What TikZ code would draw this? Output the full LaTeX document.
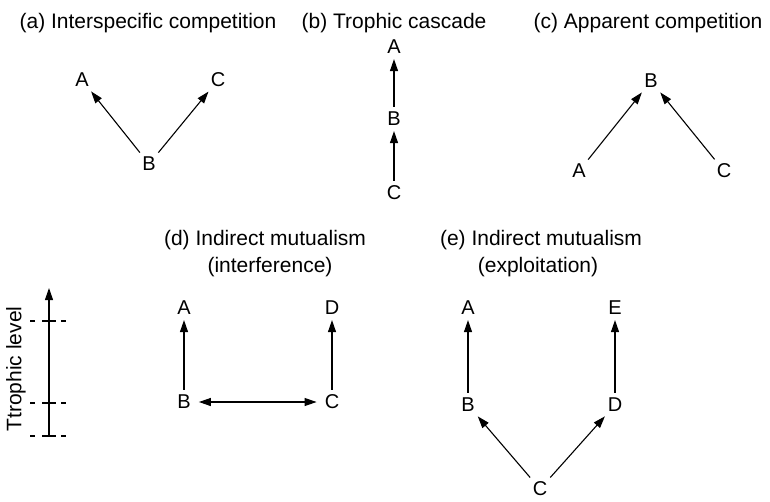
\documentclass[tikz,border=0pt]{standalone}
\usepackage{fontspec}
\setmainfont{Liberation Sans}
\usetikzlibrary{arrows.meta}
\begin{document}
\begin{tikzpicture}[x=1pt,y=-1pt,
  lbl/.style={inner xsep=3pt,inner ysep=2pt,font=\fontsize{20}{22}\selectfont},
  ttl/.style={inner sep=0pt,anchor=base,font=\fontsize{21}{25}\selectfont},
  arr/.style={-{Triangle[length=12pt,width=8pt]},line width=1.1pt,shorten >=3pt,shorten <=3pt},
  darr/.style={{Triangle[length=12pt,width=8pt]}-{Triangle[length=12pt,width=8pt]},line width=1.1pt,shorten >=5pt,shorten <=5pt},
  tick/.style={dash pattern=on 5pt off 7pt on 14pt off 5pt on 5pt,line width=1.1pt}]
\useasboundingbox (0,0) rectangle (770,501);
% titles
\node[ttl] (ta) at (148,28) {(a) Interspecific competition};
\node[ttl] (tb) at (394,28) {(b) Trophic cascade};
\node[ttl] (tc) at (648,28) {(c) Apparent competition};
\node[ttl] (td1) at (265,245) {(d) Indirect mutualism};
\node[ttl] (td2) at (270,272) {(interference)};
\node[ttl] (te1) at (541,245) {(e) Indirect mutualism};
\node[ttl] (te2) at (538,272) {(exploitation)};
% (a)
\node[lbl] (aA) at (82,80) {A};
\node[lbl] (aC) at (218,80) {C};
\node[lbl] (aB) at (149,164) {B};
\draw[arr] (aB) -- (aA);
\draw[arr] (aB) -- (aC);
% (b)
\node[lbl] (bA) at (394,47) {A};
\node[lbl] (bB) at (394,119) {B};
\node[lbl] (bC) at (394,193) {C};
\draw[arr] (bC) -- (bB);
\draw[arr] (bB) -- (bA);
% (c)
\node[lbl] (cB) at (651,81) {B};
\node[lbl] (cA) at (579,171) {A};
\node[lbl] (cC) at (724,171) {C};
\draw[arr] (cA) -- (cB);
\draw[arr] (cC) -- (cB);
% (d)
\node[lbl] (dA) at (184,308) {A};
\node[lbl] (dD) at (332,308) {D};
\node[lbl] (dB) at (184,402) {B};
\node[lbl] (dC) at (332,402) {C};
\draw[arr] (dB) -- (dA);
\draw[arr] (dC) -- (dD);
\draw[darr] (dB) -- (dC);
% (e)
\node[lbl] (eA) at (468,308) {A};
\node[lbl] (eE) at (615,308) {E};
\node[lbl] (eB) at (468,405) {B};
\node[lbl] (eD) at (615,405) {D};
\node[lbl] (eC) at (540,489) {C};
\draw[arr] (eB) -- (eA);
\draw[arr] (eD) -- (eE);
\draw[arr] (eC) -- (eB);
\draw[arr] (eC) -- (eD);
% trophic axis
\coordinate (ax0) at (49,436);
\coordinate (ax1) at (49,288);
\draw[-{Triangle[length=12pt,width=8pt]},line width=1.1pt] (ax0) -- (ax1);
\coordinate (t1l) at (30,321); \coordinate (t1r) at (66,321);
\coordinate (t2l) at (30,403); \coordinate (t2r) at (66,403);
\coordinate (t3l) at (30,436); \coordinate (t3r) at (66,436);
\draw[tick] (t1l) -- (t1r);
\draw[tick] (t2l) -- (t2r);
\draw[tick] (t3l) -- (t3r);
\node[inner sep=0pt,font=\fontsize{21}{25}\selectfont,rotate=90] (tl) at (16,369) {Ttrophic level};
\end{tikzpicture}
\end{document}
